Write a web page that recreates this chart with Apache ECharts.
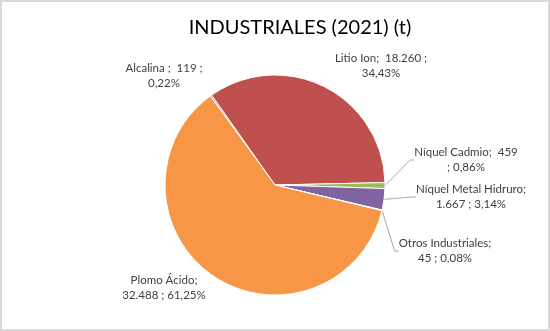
<!DOCTYPE html>
<html>
<head>
<meta charset="utf-8">
<script src="https://cdn.jsdelivr.net/npm/echarts@6/dist/echarts.min.js"></script>
<style>
  html, body { margin: 0; padding: 0; background: #fff; }
  #wrap { position: relative; width: 550px; height: 331px; }
  #chart { position: absolute; left: 0; top: 0; width: 550px; height: 331px; }
  #frame { position: absolute; left: 0; top: 0; width: 550px; height: 331px;
           box-sizing: border-box; border: 2px solid #d9d9d9; pointer-events: none; }
</style>
</head>
<body>
<div id="wrap"><div id="chart"></div><div id="frame"></div></div>
<script>
// Industrial batteries placed on the market, 2021, tonnes
const categories = ['Alcalina', 'Litio Ion', 'Níquel Cadmio', 'Níquel Metal Hidruro', 'Otros Industriales', 'Plomo Ácido'];
const tonnes = [119, 18260, 458.6, 1667, 45, 32488];
const title = 'INDUSTRIALES (2021) (t)';

// Excel-like palette, one colour per category
const colors = ['#4F81BD', '#C0504D', '#9BBB59', '#8064A2', '#4BACC6', '#F79646'];
// Where each label wraps: after the value ('value') or after the name ('name')
const wrapAfter = ['value', 'value', 'value', 'name', 'name', 'name'];
// Which slices get a leader line
const leader = [false, false, true, true, true, false];
// Label block centres (px)
const labelPos = [[164, 76], [381, 66], [466, 160], [471, 197], [445, 251], [164, 288]];

const total = tonnes.reduce((a, b) => a + b, 0);

function fmtInt(v) {
  return String(Math.round(v)).replace(/\B(?=(\d{3})+(?!\d))/g, '.');
}
function fmtPct(v) {
  return (v / total * 100).toFixed(2).replace('.', ',') + '%';
}
function labelText(i) {
  const name = categories[i], val = fmtInt(tonnes[i]), pct = fmtPct(tonnes[i]);
  const sepName = (name === 'Alcalina') ? ' ;  ' : ';  ';
  if (wrapAfter[i] === 'value') {
    if (name === 'Níquel Cadmio') return name + sepName + val + '\n; ' + pct;
    return name + sepName + val + ' ;\n' + pct;
  }
  return name + ';\n' + val + ' ; ' + pct;
}

const chart = echarts.init(document.getElementById('chart'), null, { renderer: 'canvas' });
chart.setOption({
  animation: false,
  color: colors,
  title: {
    text: title,
    left: 295,
    top: 13,
    textAlign: 'center',
    textStyle: { fontFamily: 'Lato', fontSize: 20, fontWeight: 'normal', color: '#000' }
  },
  series: [{
    type: 'pie',
    center: [275, 185],
    radius: 110,
    startAngle: 126,
    clockwise: true,
    silent: true,
    itemStyle: { borderColor: '#fff', borderWidth: 1 },
    emphasis: { disabled: true },
    label: {
      show: true,
      position: 'outside',
      formatter: p => labelText(p.dataIndex),
      fontFamily: 'Lato',
      fontSize: 11.5,
      lineHeight: 15,
      color: '#404040',
      align: 'center'
    },
    labelLine: {
      show: true,
      length: 8,
      length2: 4,
      smooth: false,
      lineStyle: { color: '#a6a6a6', width: 1 }
    },
    labelLayout: p => ({
      x: labelPos[p.dataIndex][0],
      y: labelPos[p.dataIndex][1],
      align: 'center',
      verticalAlign: 'middle'
    }),
    data: categories.map((name, i) => ({
      name: name,
      value: tonnes[i],
      labelLine: { show: leader[i] }
    }))
  }]
});
</script>
</body>
</html>
